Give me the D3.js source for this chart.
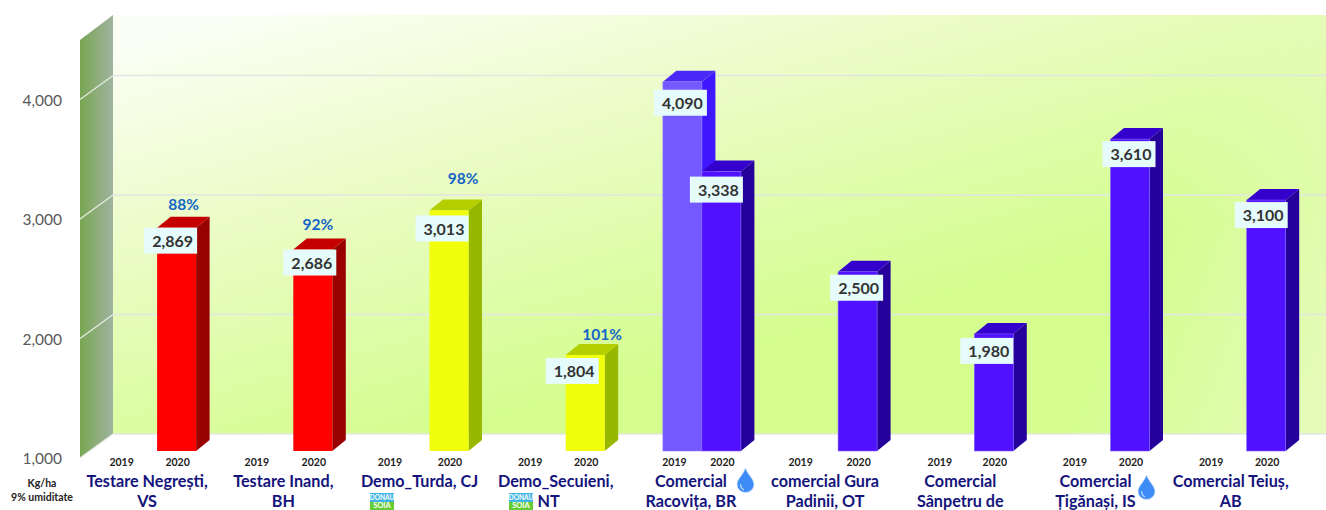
<!DOCTYPE html>
<meta charset="utf-8" />
<style>
  body { margin: 0; background: #fff; }
  svg { display: block; font-family: Lato, "Open Sans", sans-serif; }
</style>
<script src="https://d3js.org/d3.v7.min.js"></script>
<div id="my_dataviz"></div>
<script>
  // chart data
  const categories = ["Negresti", "Inand", "Turda", "Secuieni", "Racovita", "Gura", "Sanpetru", "Tiganasi", "Teius"];
  const years = ["2019", "2020"];
  const values2019 = [null, null, null, null, 4090, null, null, null, null];
  const values2020 = [2869, 2686, 3013, 1804, 3338, 2500, 1980, 3610, 3100];
  const percents = ["88%", "92%", "98%", "101%", null, null, null, null, null];
  const groups = ["red", "red", "yellow", "yellow", "blue", "blue", "blue", "blue", "blue"];
  const labelLine1 = ["Testare Negrești,", "Testare Inand,", "Demo_Turda, CJ", "Demo_Secuieni,", "Comercial", "comercial Gura", "Comercial", "Comercial", "Comercial Teiuș,"];
  const labelLine2 = ["VS", "BH", "", "NT", "Racovița, BR", "Padinii, OT", "Sânpetru de", "Țigănași, IS", "AB"];
  const yTicks = [1000, 2000, 3000, 4000];

  const width = 1326, height = 510;
  const depth = { x: 13.5, y: -11 };
  const wall = { front: 80, back: 113, topValue: 4506 };
  const floorShift = 7; // front edge of the wall sits below the bar bases

  const svg = d3.select("#my_dataviz").append("svg").attr("width", width).attr("height", height);

  const y = d3.scaleLinear().domain([1000, 4000]).range([451, 92.5]);
  const x = d3.scaleBand().domain(categories).range([89, 1314.8]).paddingInner(0.4273).paddingOuter(0.2137);
  const xYear = d3.scaleBand().domain(years).range([0, x.bandwidth()]);

  const palette = {
    red: { front: "#ff0000", side: "#990000", top: "#c40000", stroke: "none" },
    yellow: { front: "#f1ff0c", side: "#98b800", top: "#b4cf00", stroke: "none" },
    blue: { front: "#5011ff", side: "#25009a", top: "#3300cc", stroke: "#7f63ff" },
    light: { front: "#7359ff", side: "#4018ff", top: "#4a28f5", stroke: "#8f7dff" },
  };

  // gradients
  const defs = svg.append("defs");
  const wallGrad = defs.append("linearGradient").attr("id", "backWall")
    .attr("gradientUnits", "userSpaceOnUse")
    .attr("x1", 300).attr("y1", 0).attr("x2", 420).attr("y2", 440);
  wallGrad.append("stop").attr("offset", 0).attr("stop-color", "#fbfef4");
  wallGrad.append("stop").attr("offset", 0.45).attr("stop-color", "#eafcc4");
  wallGrad.append("stop").attr("offset", 1).attr("stop-color", "#d4fd8e");
  const cornerGrad = defs.append("linearGradient").attr("id", "backCorner")
    .attr("gradientUnits", "userSpaceOnUse")
    .attr("x1", 1100).attr("y1", 350).attr("x2", 1326).attr("y2", 434);
  cornerGrad.append("stop").attr("offset", 0).attr("stop-color", "#e6fbbc").attr("stop-opacity", 0);
  cornerGrad.append("stop").attr("offset", 1).attr("stop-color", "#e6fbbc").attr("stop-opacity", 1);
  const sideGrad = defs.append("linearGradient").attr("id", "sideWall");
  sideGrad.append("stop").attr("offset", 0).attr("stop-color", "#79a653");
  sideGrad.append("stop").attr("offset", 1).attr("stop-color", "#9fb39f");

  // walls
  const wallBackY = (v) => y(v) - 17;
  const wallFrontY = (v) => y(v) + floorShift;
  const wallTop = wallBackY(wall.topValue);
  const wallBottom = wallBackY(1000);
  svg.append("rect").attr("x", wall.back).attr("y", wallTop)
    .attr("width", width - wall.back).attr("height", wallBottom - wallTop).attr("fill", "url(#backWall)");
  svg.append("rect").attr("x", wall.back).attr("y", wallTop)
    .attr("width", width - wall.back).attr("height", wallBottom - wallTop).attr("fill", "url(#backCorner)");
  svg.append("path")
    .attr("d", d3.line()([
      [wall.front, wallTop + 25], [wall.back, wallTop],
      [wall.back, wallBottom], [wall.front, wallFrontY(1000)],
    ]) + "Z")
    .attr("fill", "url(#sideWall)");

  // gridlines
  svg.append("g").selectAll("line.back").data(yTicks).join("line").attr("class", "back")
    .attr("x1", wall.back).attr("x2", width)
    .attr("y1", wallBackY).attr("y2", wallBackY)
    .attr("stroke", "#e2e6e2").attr("stroke-width", 1.5);
  svg.append("g").selectAll("line.side").data(yTicks).join("line").attr("class", "side")
    .attr("x1", wall.front).attr("x2", wall.back)
    .attr("y1", wallFrontY).attr("y2", wallBackY)
    .attr("stroke", "#e6ece4").attr("stroke-width", 1.2);

  // y axis
  const yAxis = svg.append("g")
    .attr("transform", `translate(62,${floorShift + 1})`)
    .call(d3.axisLeft(y).tickValues(yTicks).tickSize(0).tickPadding(0).tickFormat(d3.format(",")));
  yAxis.select(".domain").remove();
  yAxis.selectAll("text").style("font-size", "15.5px").style("font-family", "Lato, sans-serif").attr("fill", "#595959");

  // bars
  function drawBar(cat, year, value, colors) {
    const x0 = x(cat) + xYear(year), x1 = x0 + xYear.bandwidth();
    const top = y(value), base = y(1000);
    const g = svg.append("g");
    g.append("path")
      .attr("d", d3.line()([[x1, top], [x1 + depth.x, top + depth.y], [x1 + depth.x, base + depth.y], [x1, base]]) + "Z")
      .attr("fill", colors.side);
    g.append("path")
      .attr("d", d3.line()([[x0, top], [x0 + depth.x, top + depth.y], [x1 + depth.x, top + depth.y], [x1, top]]) + "Z")
      .attr("fill", colors.top);
    g.append("rect").attr("x", x0).attr("y", top).attr("width", x1 - x0).attr("height", base - top)
      .attr("fill", colors.front).attr("stroke", colors.stroke).attr("stroke-width", 0.6);
  }
  categories.forEach((c, i) => {
    if (values2019[i] != null) drawBar(c, "2019", values2019[i], palette.light);
  });
  categories.forEach((c, i) => drawBar(c, "2020", values2020[i], palette[groups[i]]));

  // value labels, nudged off the bars by hand like in the original
  const labelDx2020 = [-6, -3, -7, -13, -5, -1, -7, -1, -5];
  const labelDy2020 = [0, 0, 5, 3, 5, 3, 4, 2, 2];
  function drawValue(cat, year, value, dx, dy) {
    const cx = x(cat) + xYear(year) + xYear.bandwidth() / 2 + dx;
    const top = y(value) + dy;
    const g = svg.append("g");
    g.append("rect").attr("x", cx - 26.5).attr("y", top).attr("width", 53).attr("height", 26).attr("fill", "#e6fbfb");
    g.append("text").attr("x", cx + 2).attr("y", top + 13.5).attr("dy", "0.35em").attr("text-anchor", "middle")
      .attr("font-size", 16).attr("font-weight", 700).attr("fill", "#333").text(d3.format(",")(value));
  }
  categories.forEach((c, i) => {
    if (values2019[i] != null) drawValue(c, "2019", values2019[i], -2, 8);
  });
  categories.forEach((c, i) => drawValue(c, "2020", values2020[i], labelDx2020[i], labelDy2020[i]));

  // percent labels
  const percentDx = [7, 5, 14, 17];
  const percentUp = [23, 25, 32, 20];
  categories.forEach((c, i) => {
    if (!percents[i]) return;
    svg.append("text")
      .attr("x", x(c) + xYear("2020") + xYear.bandwidth() / 2 + percentDx[i])
      .attr("y", y(values2020[i]) - percentUp[i])
      .attr("dy", "0.35em").attr("text-anchor", "middle")
      .attr("font-size", 15.5).attr("font-weight", 700).attr("fill", "#1565c8").text(percents[i]);
  });

  // year labels under the bars
  const year2019Dx = [-55, -56, -59, -55, -47, -57, -54, -55, -55];
  categories.forEach((c, i) => {
    const cx = x(c) + xYear("2020") + xYear.bandwidth() / 2;
    svg.append("text").attr("x", cx + year2019Dx[i]).attr("y", 462).attr("dy", "0.35em")
      .attr("text-anchor", "middle").attr("font-size", 10.5).attr("font-weight", 700).attr("fill", "#222").text("2019");
    svg.append("text").attr("x", cx + 1).attr("y", 462).attr("dy", "0.35em")
      .attr("text-anchor", "middle").attr("font-size", 10.5).attr("font-weight", 700).attr("fill", "#222").text("2020");
  });

  // category labels
  const catDx = [-10, -10, -10, -10, -11, -13, -14, -15, -16];
  const line2Dx = [0, 0, 0, -7, 0, 0, 0, 0, 0];
  categories.forEach((c, i) => {
    const cx = x(c) + x.bandwidth() / 2 + catDx[i];
    svg.append("text").attr("x", cx).attr("y", 487).attr("text-anchor", "middle")
      .attr("font-size", 16.2).attr("font-weight", 700).attr("fill", "#14147c").text(labelLine1[i]);
    svg.append("text").attr("x", cx + line2Dx[i]).attr("y", 507).attr("text-anchor", "middle")
      .attr("font-size", 16.2).attr("font-weight", 700).attr("fill", "#14147c").text(labelLine2[i]);
  });

  // unit note
  svg.append("text").attr("x", 42).attr("y", 487).attr("text-anchor", "middle")
    .attr("font-size", 10.5).attr("font-weight", 700).attr("fill", "#222").text("Kg/ha");
  svg.append("text").attr("x", 42).attr("y", 501).attr("text-anchor", "middle")
    .attr("font-size", 10.5).attr("font-weight", 700).attr("fill", "#222").text("9% umiditate");

  // water drop icons
  function drop(px, py) {
    const g = svg.append("g").attr("transform", `translate(${px},${py})`);
    g.append("path").attr("d", "M8.5 0C11 7 17 11 17 16.5A8.5 8 0 0 1 0 16.5C0 11 6 7 8.5 0Z")
      .attr("fill", "#3d8bf5").attr("stroke", "#cfe3fb").attr("stroke-width", 0.8);
    g.append("path").attr("d", "M3.5 16C3.5 19 5 21 7 22")
      .attr("fill", "none").attr("stroke", "#bcd9fb").attr("stroke-width", 1.2);
  }
  drop(737, 468);
  drop(1138, 475);

  // Donau Soia logos
  function logo(px) {
    const g = svg.append("g").attr("transform", `translate(${px},493)`);
    g.append("rect").attr("width", 24).attr("height", 9).attr("fill", "#3fb4e6");
    g.append("rect").attr("y", 9).attr("width", 24).attr("height", 8).attr("fill", "#66cc33");
    g.append("text").attr("x", 12).attr("y", 7).attr("text-anchor", "middle")
      .attr("font-size", 6.5).attr("font-weight", 700).attr("fill", "#fff").text("DONAU");
    g.append("text").attr("x", 12).attr("y", 15).attr("text-anchor", "middle")
      .attr("font-size", 7.5).attr("font-weight", 700).attr("fill", "#fff").text("SOIA");
  }
  logo(370);
  logo(509);
</script>
